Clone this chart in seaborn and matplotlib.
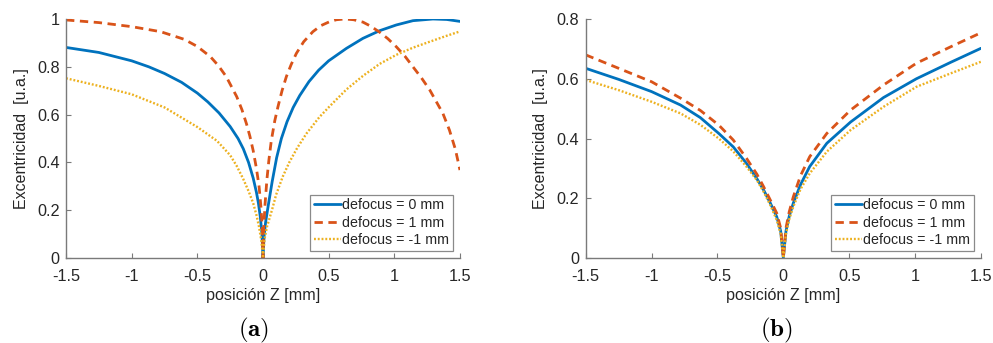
import numpy as np
import pandas as pd
import matplotlib
matplotlib.use("Agg")
import matplotlib.pyplot as plt
import seaborn as sns

# ---- (a) eccentricity vs. Z position ----
za_0 = [-1.5, -1.25, -1.0, -0.87, -0.75, -0.62, -0.5, -0.42, -0.335, -0.25, -0.19,
        -0.15, -0.11, -0.075, -0.05, -0.035, -0.02, -0.008, 0.0,
        0.008, 0.02, 0.04, 0.07, 0.104, 0.14, 0.183, 0.23, 0.28, 0.35, 0.424, 0.5,
        0.635, 0.761, 0.888, 1.015, 1.142, 1.294, 1.4, 1.5]
va_0 = [0.881, 0.86, 0.825, 0.8, 0.772, 0.735, 0.69, 0.653, 0.607, 0.55, 0.5,
        0.457, 0.4, 0.335, 0.275, 0.23, 0.17, 0.1, 0.0,
        0.09, 0.15, 0.22, 0.32, 0.42, 0.5, 0.57, 0.63, 0.68, 0.738, 0.786, 0.825,
        0.877, 0.919, 0.951, 0.975, 0.993, 1.0, 0.998, 0.99]

za_1 = [-1.5, -1.25, -1.0, -0.78, -0.6, -0.5, -0.4, -0.34, -0.28, -0.2, -0.16, -0.125,
        -0.1, -0.075, -0.05, -0.03, -0.015, -0.005, 0.0,
        0.005, 0.015, 0.03, 0.045, 0.063, 0.09, 0.114, 0.145, 0.178, 0.215, 0.254, 0.31,
        0.38, 0.44, 0.508, 0.56, 0.622, 0.69, 0.761, 0.82, 0.888, 0.95, 1.015, 1.08,
        1.142, 1.205, 1.27, 1.37, 1.42, 1.465, 1.5]
va_1 = [0.996, 0.985, 0.968, 0.947, 0.915, 0.885, 0.842, 0.805, 0.759, 0.675, 0.62, 0.56,
        0.51, 0.45, 0.375, 0.3, 0.21, 0.12, 0.0,
        0.12, 0.22, 0.33, 0.41, 0.49, 0.575, 0.633, 0.7, 0.759, 0.81, 0.856, 0.905,
        0.947, 0.972, 0.989, 0.997, 1.0, 0.997, 0.987, 0.97, 0.945, 0.918, 0.884, 0.845,
        0.80, 0.755, 0.703, 0.605, 0.535, 0.455, 0.368]

za_m1 = [-1.5, -1.25, -1.0, -0.75, -0.5, -0.35, -0.25, -0.2, -0.15, -0.11, -0.075, -0.05,
         -0.03, -0.012, 0.0,
         0.012, 0.03, 0.068, 0.1, 0.15, 0.2, 0.26, 0.33, 0.43, 0.508, 0.635, 0.761,
         0.888, 1.015, 1.142, 1.27, 1.4, 1.5]
va_m1 = [0.752, 0.72, 0.685, 0.63, 0.548, 0.49, 0.43, 0.385, 0.33, 0.28, 0.23, 0.18,
         0.13, 0.07, 0.0,
         0.08, 0.13, 0.2, 0.265, 0.34, 0.4, 0.46, 0.52, 0.59, 0.635, 0.705, 0.762,
         0.812, 0.85, 0.88, 0.905, 0.93, 0.948]

# ---- (b) eccentricity vs. Z position ----
zb_0 = [-1.5, -1.25, -1.0, -0.78, -0.63, -0.49, -0.38, -0.28, -0.2, -0.15, -0.1, -0.05,
        -0.02, 0.0, 0.02, 0.045, 0.076, 0.13, 0.2, 0.33, 0.51, 0.76, 1.01, 1.27, 1.5]
vb_0 = [0.635, 0.598, 0.557, 0.512, 0.47, 0.417, 0.372, 0.317, 0.265, 0.228, 0.185, 0.138,
        0.09, 0.0, 0.09, 0.14, 0.184, 0.245, 0.306, 0.384, 0.455, 0.537, 0.6, 0.655, 0.702]

zb_1 = [-1.5, -1.25, -1.0, -0.78, -0.63, -0.49, -0.38, -0.28, -0.2, -0.15, -0.1, -0.05,
        -0.02, 0.0, 0.02, 0.045, 0.076, 0.13, 0.2, 0.33, 0.51, 0.76, 1.01, 1.27, 1.5]
vb_1 = [0.68, 0.635, 0.59, 0.535, 0.494, 0.445, 0.395, 0.334, 0.28, 0.239, 0.195, 0.15,
        0.1, 0.0, 0.1, 0.155, 0.205, 0.275, 0.339, 0.417, 0.495, 0.579, 0.652, 0.707, 0.754]

zb_m1 = [-1.5, -1.25, -1.0, -0.78, -0.63, -0.49, -0.38, -0.28, -0.2, -0.15, -0.1, -0.05,
         -0.02, 0.0, 0.02, 0.045, 0.076, 0.13, 0.2, 0.33, 0.51, 0.76, 1.01, 1.27, 1.5]
vb_m1 = [0.596, 0.562, 0.523, 0.484, 0.446, 0.40, 0.357, 0.306, 0.26, 0.222, 0.178, 0.127,
         0.08, 0.0, 0.08, 0.13, 0.172, 0.23, 0.283, 0.356, 0.428, 0.506, 0.573, 0.618, 0.657]

labels = ["defocus = 0 mm", "defocus = 1 mm", "defocus = -1 mm"]
colors = ["#0072BD", "#D95319", "#EDB120"]
styles = ["-", (0, (3.0, 2.0)), (0, (0.8, 0.8))]
widths = [2.0, 2.0, 1.7]

xticks = [-1.5, -1, -0.5, 0, 0.5, 1, 1.5]
xtick_labels = ["-1.5", "-1", "-0.5", "0", "0.5", "1", "1.5"]
yticks_a = [0, 0.2, 0.4, 0.6, 0.8, 1]
ytick_labels_a = ["0", "0.2", "0.4", "0.6", "0.8", "1"]
yticks_b = [0, 0.2, 0.4, 0.6, 0.8]
ytick_labels_b = ["0", "0.2", "0.4", "0.6", "0.8"]

sns.set_style("ticks")
plt.rcParams["font.family"] = ["Liberation Sans", "DejaVu Sans"]
plt.rcParams["mathtext.fontset"] = "cm"

fig = plt.figure(figsize=(9.93, 3.43), dpi=100)
ax_a = fig.add_axes([0.0665, 0.2478, 0.3967, 0.6968])
ax_b = fig.add_axes([0.5898, 0.2478, 0.3981, 0.6968])

panels = [
    (ax_a, [(za_0, va_0), (za_1, va_1), (za_m1, va_m1)], yticks_a, ytick_labels_a, 1.0),
    (ax_b, [(zb_0, vb_0), (zb_1, vb_1), (zb_m1, vb_m1)], yticks_b, ytick_labels_b, 0.8),
]

axis_grey = "#7a7a7a"
text_col = "#262626"

for ax, series, yt, ytl, ymax in panels:
    for (z, v), lab, c, ls, lw in zip(series, labels, colors, styles, widths):
        df = pd.DataFrame({"z": z, "v": v})
        sns.lineplot(data=df, x="z", y="v", ax=ax, color=c, linestyle=ls,
                     linewidth=lw, label=lab, sort=True)
    ax.set_xlim(-1.5, 1.5)
    ax.set_ylim(0, ymax)
    ax.set_xticks(xticks)
    ax.set_xticklabels(xtick_labels)
    ax.set_yticks(yt)
    ax.set_yticklabels(ytl)
    ax.tick_params(direction="in", length=3.5, width=0.8, color=axis_grey,
                   labelsize=11.7, labelcolor=text_col)
    ax.tick_params(axis="x", pad=8)
    ax.tick_params(axis="y", pad=4.5)
    for side in ("top", "right"):
        ax.spines[side].set_visible(False)
    for side in ("left", "bottom"):
        ax.spines[side].set_color(axis_grey)
        ax.spines[side].set_linewidth(1.0)
    ax.set_xlabel("posición Z [mm]", fontsize=11.6, color=text_col, labelpad=3)
    ax.set_ylabel("Excentricidad  [u.a.]", fontsize=11.5, color=text_col, labelpad=6)
    leg = ax.legend(loc="lower right", bbox_to_anchor=(0.982, 0.03), fontsize=10.3,
                    frameon=True, fancybox=False, framealpha=1, edgecolor="#8a8a8a",
                    handlelength=1.9, handletextpad=0.1, labelspacing=0.25,
                    borderpad=0.25, borderaxespad=0)
    leg.get_frame().set_linewidth(0.9)
    for t in leg.get_texts():
        t.set_color(text_col)

fig.text(254 / 993, 1 - 330 / 343, r"$\mathbf{(a)}$", ha="center", va="center",
         fontsize=18, color="black")
fig.text(776 / 993, 1 - 330 / 343, r"$\mathbf{(b)}$", ha="center", va="center",
         fontsize=18, color="black")

fig.savefig("out.png", dpi=100)
